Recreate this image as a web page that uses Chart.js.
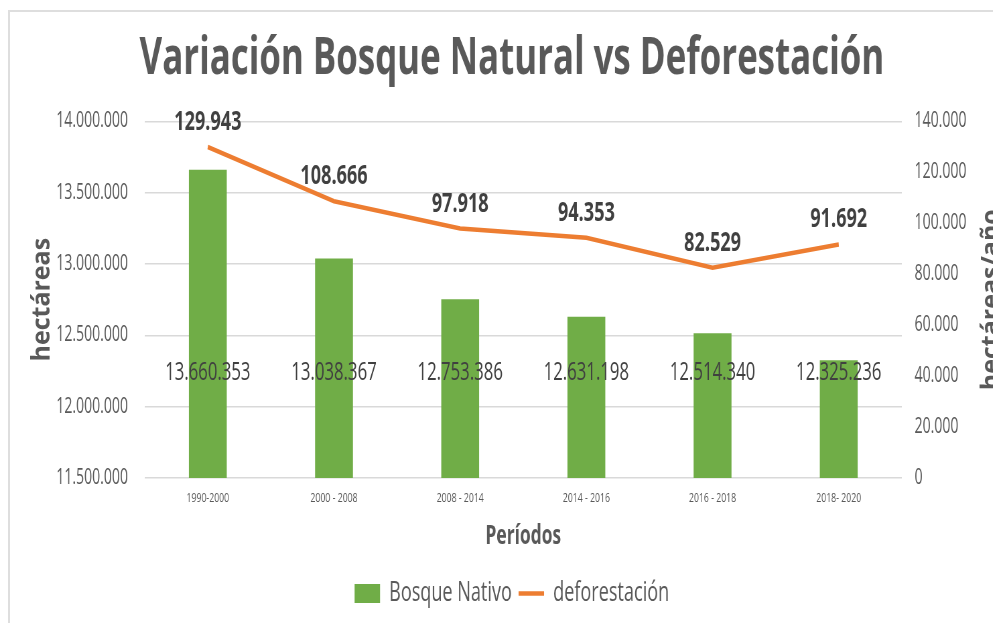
<!DOCTYPE html>
<html>
<head>
<meta charset="utf-8">
<script src="https://cdn.jsdelivr.net/npm/chart.js@4.4.1/dist/chart.umd.min.js"></script>
<style>
html, body { margin: 0; padding: 0; background: #fff; overflow: hidden; width: 993px; height: 623px; }
#frame { position: absolute; left: 8px; top: 10px; width: 1100px; height: 700px; border-top: 2px solid #dedede; border-left: 2px solid #dedede; }
#wrap { position: absolute; left: 0; top: 0; width: 1482px; height: 623px; transform: scaleX(0.67); transform-origin: 0 0; }
</style>
</head>
<body>
<div id="frame"></div>
<div id="wrap"><canvas id="chart" width="1482" height="623"></canvas></div>
<script>
// the source picture is squeezed sideways, so the canvas is drawn wide and scaled back
var SQUEEZE = 0.67;
var FONT = "'Open Sans', sans-serif";

var periodos = ['1990-2000', '2000 - 2008', '2008 - 2014', '2014 - 2016', '2016 - 2018', '2018- 2020'];
var bosqueNativo = [13660353, 13038367, 12753386, 12631198, 12514340, 12325236];
var deforestacion = [129943, 108666, 97918, 94353, 82529, 91692];

var hectareasMin = 11500000, hectareasMax = 14000000, hectareasStep = 500000;
var anualMin = 0, anualMax = 140000, anualStep = 20000;

function fmt(v) {
    return String(v).replace(/\B(?=(\d{3})+(?!\d))/g, '.');
}

function drawRotated(ctx, text, x, y) {
    ctx.save();
    ctx.translate(x, y);
    ctx.scale(1 / SQUEEZE, 1);
    ctx.rotate(-Math.PI / 2);
    ctx.fillText(text, 0, 0);
    ctx.restore();
}

var labelPlugin = {
    id: 'labels',
    afterDatasetsDraw: function(chart) {
        var ctx = chart.ctx;
        var yL = chart.scales.y;
        var area = chart.chartArea;
        ctx.save();
        ctx.fillStyle = '#404040';
        ctx.textAlign = 'center';
        ctx.textBaseline = 'alphabetic';

        ctx.font = '25px ' + FONT;
        chart.getDatasetMeta(0).data.forEach(function(bar, i) {
            ctx.fillText(fmt(bosqueNativo[i]), bar.x, yL.getPixelForValue(12250000) + 9);
        });

        ctx.font = 'bold 27px ' + FONT;
        chart.getDatasetMeta(1).data.forEach(function(pt, i) {
            ctx.fillText(fmt(deforestacion[i]), pt.x, pt.y - 17);
        });

        // axis titles, kept upright against the squeeze
        ctx.fillStyle = '#595959';
        ctx.font = 'bold 25px ' + FONT;
        var midY = (area.top + area.bottom) / 2;
        drawRotated(ctx, 'hectáreas', 74, midY);
        drawRotated(ctx, 'hectáreas/año', 1491, midY);
        ctx.restore();
    }
};

var ctx = document.getElementById('chart').getContext('2d');
var chart = new Chart(ctx, {
    data: {
        labels: periodos,
        datasets: [{
            type: 'bar',
            label: 'Bosque Nativo',
            data: bosqueNativo,
            backgroundColor: '#70AD47',
            yAxisID: 'y',
            order: 2,
            barPercentage: 0.3,
            categoryPercentage: 1,
            pointStyle: 'rect'
        }, {
            type: 'line',
            label: 'deforestación',
            data: deforestacion,
            borderColor: '#ED7D31',
            backgroundColor: '#ED7D31',
            borderWidth: 4.5,
            pointRadius: 0,
            tension: 0,
            yAxisID: 'y1',
            order: 1,
            pointStyle: 'line'
        }]
    },
    options: {
        responsive: false,
        animation: false,
        layout: { padding: { top: 0, bottom: 6, left: 46, right: 0 } },
        plugins: {
            title: {
                display: true,
                text: 'Variación Bosque Natural vs Deforestación',
                color: '#595959',
                font: { family: FONT, size: 52, weight: 'bold' },
                padding: { top: 28, bottom: 31 }
            },
            legend: {
                position: 'bottom',
                labels: {
                    usePointStyle: true,
                    pointStyleWidth: 38,
                    boxHeight: 19,
                    color: '#595959',
                    font: { family: FONT, size: 27 },
                    padding: 10,
                    sort: function(a, b) { return a.datasetIndex - b.datasetIndex; }
                }
            },
            tooltip: { enabled: false }
        },
        scales: {
            x: {
                grid: { display: false },
                border: { display: false },
                ticks: { color: '#595959', font: { family: FONT, size: 13 }, padding: 4 },
                title: {
                    display: true,
                    text: 'Períodos',
                    color: '#595959',
                    font: { family: FONT, size: 26, weight: 'bold' },
                    padding: { top: 0, bottom: 18 }
                },
                afterFit: function(s) { s.height = 92; }
            },
            y: {
                position: 'left',
                min: hectareasMin,
                max: hectareasMax,
                ticks: {
                    stepSize: hectareasStep,
                    color: '#595959',
                    font: { family: FONT, size: 21 },
                    padding: 25,
                    callback: function(v) { return fmt(v); }
                },
                grid: { color: '#d9d9d9', lineWidth: 1.5, drawTicks: false },
                border: { display: false },
                afterFit: function(s) { s.width = 170; }
            },
            y1: {
                position: 'right',
                min: anualMin,
                max: anualMax,
                ticks: {
                    stepSize: anualStep,
                    color: '#595959',
                    font: { family: FONT, size: 21 },
                    padding: 19,
                    callback: function(v) { return fmt(v); }
                },
                grid: { display: false, drawTicks: false },
                border: { display: false },
                afterFit: function(s) { s.width = 136; }
            }
        }
    },
    plugins: [labelPlugin]
});
</script>
</body>
</html>
